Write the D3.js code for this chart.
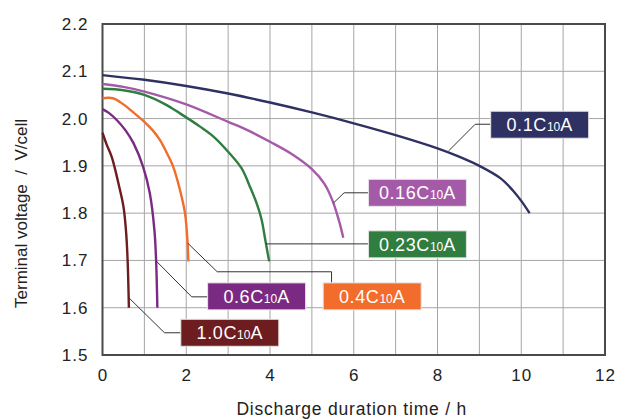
<!DOCTYPE html>
<html>
<head>
<meta charset="utf-8">
<script src="https://cdn.jsdelivr.net/npm/d3@7"></script>
<style>
  body { margin: 0; background: #fff; }
  text { font-family: "Liberation Sans", Arial, sans-serif; }
</style>
</head>
<body>
<div id="chart"></div>
<script>
// discharge curves (time in h, terminal voltage in V/cell)
const rates = ["0.1", "0.16", "0.23", "0.4", "0.6", "1.0"];
const colors = ["#2e3162", "#a55aa8", "#2f7d3f", "#f26c2b", "#7b2a83", "#6d1c1f"];

const t01 = [0, 1, 2, 3, 4, 5, 6, 7, 8, 8.5, 9, 9.5, 9.8, 10.0, 10.2];
const v01 = [2.092, 2.082, 2.069, 2.053, 2.034, 2.013, 1.99, 1.965, 1.937, 1.92, 1.9, 1.874, 1.848, 1.826, 1.80];
const t016 = [0, 0.5, 1, 2, 3, 3.5, 4, 4.5, 5, 5.3, 5.5, 5.65, 5.75];
const v016 = [2.073, 2.067, 2.057, 2.03, 1.993, 1.974, 1.951, 1.926, 1.893, 1.862, 1.825, 1.783, 1.748];
const t023 = [0, 0.5, 1, 1.5, 1.85, 2.33, 2.65, 3.0, 3.32, 3.52, 3.68, 3.8, 3.89, 3.98];
const v023 = [2.063, 2.06, 2.05, 2.03, 2.011, 1.983, 1.962, 1.93, 1.895, 1.856, 1.821, 1.786, 1.742, 1.698];
const t04 = [0, 0.25, 0.5, 0.75, 1, 1.2, 1.37, 1.55, 1.69, 1.85, 1.97, 2.03, 2.05];
const v04 = [2.043, 2.043, 2.03, 2.012, 1.993, 1.975, 1.955, 1.925, 1.898, 1.849, 1.80, 1.74, 1.698];
const t06 = [0, 0.15, 0.34, 0.55, 0.74, 0.97, 1.13, 1.24, 1.28, 1.31];
const v06 = [2.02, 2.012, 1.997, 1.975, 1.948, 1.898, 1.842, 1.764, 1.70, 1.6];
const t10 = [0, 0.1, 0.22, 0.3, 0.38, 0.5, 0.56, 0.6, 0.63];
const v10 = [1.97, 1.945, 1.919, 1.893, 1.863, 1.814, 1.764, 1.70, 1.6];

const xTicks = [0, 2, 4, 6, 8, 10, 12];
const yTicks = [1.5, 1.6, 1.7, 1.8, 1.9, 2.0, 2.1, 2.2];

// label callouts: leader line points [t, V], box left t, box centre V
const leaders = [
  [[8.27, 1.932], [8.9, 1.988], [9.27, 1.988]],
  [[5.51, 1.821], [5.77, 1.843], [6.35, 1.843]],
  [[3.9, 1.735], [6.35, 1.735]],
  [[2.04, 1.736], [2.74, 1.676], [5.47, 1.676], [5.47, 1.653]],
  [[1.28, 1.699], [2.13, 1.623], [2.51, 1.623]],
  [[0.63, 1.621], [1.48, 1.547], [1.87, 1.547]]
];
const boxT = [9.27, 6.35, 6.35, 5.27, 2.51, 1.87];
const boxV = [1.987, 1.843, 1.734, 1.624, 1.624, 1.547];

const series = [[t01, v01], [t016, v016], [t023, v023], [t04, v04], [t06, v06], [t10, v10]];

const width = 619, height = 419;
const margin = {top: 24, right: 14, bottom: 64, left: 102.5};
const w = width - margin.left - margin.right;
const h = height - margin.top - margin.bottom;

const svg = d3.select("#chart")
    .append("svg")
    .attr("width", width)
    .attr("height", height)
    .append("g")
    .attr("transform", `translate(${margin.left},${margin.top})`);

const x = d3.scaleLinear().domain([0, 12]).range([0, w]);
const y = d3.scaleLinear().domain([1.5, 2.2]).range([h, 0]);

// grid
svg.append("g")
    .selectAll("line")
    .data(d3.range(1, 12))
    .join("line")
    .attr("x1", d => x(d)).attr("x2", d => x(d))
    .attr("y1", 0).attr("y2", h)
    .attr("stroke", "#a6a6a6").attr("stroke-width", 1);

svg.append("g")
    .selectAll("line")
    .data(yTicks.slice(1, -1))
    .join("line")
    .attr("x1", 0).attr("x2", w)
    .attr("y1", d => y(d)).attr("y2", d => y(d))
    .attr("stroke", "#a6a6a6").attr("stroke-width", 1);

// axes (labels only)
const xAxis = svg.append("g")
    .attr("transform", `translate(0,${h})`)
    .call(d3.axisBottom(x).tickValues(xTicks).tickSize(0).tickPadding(14).tickFormat(d3.format("d")));
xAxis.select(".domain").remove();
xAxis.selectAll("text").style("font-size", "17px").style("letter-spacing", "1px").attr("fill", "#222");

const yAxis = svg.append("g")
    .call(d3.axisLeft(y).tickValues(yTicks).tickSize(0).tickPadding(14).tickFormat(d3.format(".1f")));
yAxis.select(".domain").remove();
yAxis.selectAll("text").style("font-size", "17px").style("letter-spacing", "1px").attr("fill", "#222");

// frame
svg.append("rect")
    .attr("x", 0).attr("y", 0)
    .attr("width", w).attr("height", h)
    .attr("fill", "none")
    .attr("stroke", "#4a4a4a")
    .attr("stroke-width", 2);

// curves
const line = d3.line()
    .x(d => x(d[0]))
    .y(d => y(d[1]))
    .curve(d3.curveCatmullRom.alpha(0.5));

svg.selectAll(".curve")
    .data(series)
    .join("path")
    .attr("class", "curve")
    .attr("d", s => line(s[0].map((t, i) => [t, s[1][i]])))
    .attr("fill", "none")
    .attr("stroke", (d, i) => colors[i])
    .attr("stroke-width", 2.4);

// leader lines
const plain = d3.line().x(d => x(d[0])).y(d => y(d[1]));
svg.selectAll(".leader")
    .data(leaders)
    .join("path")
    .attr("class", "leader")
    .attr("d", plain)
    .attr("fill", "none")
    .attr("stroke", "#333")
    .attr("stroke-width", 1);

// label boxes
const boxW = 98, boxH = 27;
const labels = svg.selectAll(".lab")
    .data(rates)
    .join("g")
    .attr("class", "lab")
    .attr("transform", (d, i) => `translate(${x(boxT[i])},${y(boxV[i]) - boxH / 2})`);

labels.append("rect")
    .attr("width", boxW).attr("height", boxH)
    .attr("fill", (d, i) => colors[i])
    .attr("stroke", "#e6e6e6")
    .attr("stroke-width", 1);

const txt = labels.append("text")
    .attr("x", boxW / 2)
    .attr("y", boxH / 2 + 6.5)
    .attr("text-anchor", "middle")
    .attr("fill", "#fff")
    .style("font-size", "18px")
    .style("letter-spacing", "0.6px");
txt.append("tspan").text(d => d + "C");
txt.append("tspan").style("font-size", "12px").style("letter-spacing", "0px").text("10");
txt.append("tspan").text("A");

// axis titles
svg.append("text")
    .attr("x", w / 2 - 2)
    .attr("y", h + 60)
    .attr("text-anchor", "middle")
    .style("font-size", "17.5px")
    .style("letter-spacing", "0.8px")
    .attr("fill", "#222")
    .text("Discharge duration time / h");

svg.append("text")
    .attr("transform", `translate(${-margin.left + 27},${h / 2 + 24}) rotate(-90)`)
    .attr("text-anchor", "middle")
    .style("font-size", "17px")
    .attr("fill", "#222")
    .style("white-space", "pre")
    .text("Terminal voltage  /  V/cell");
</script>
</body>
</html>
